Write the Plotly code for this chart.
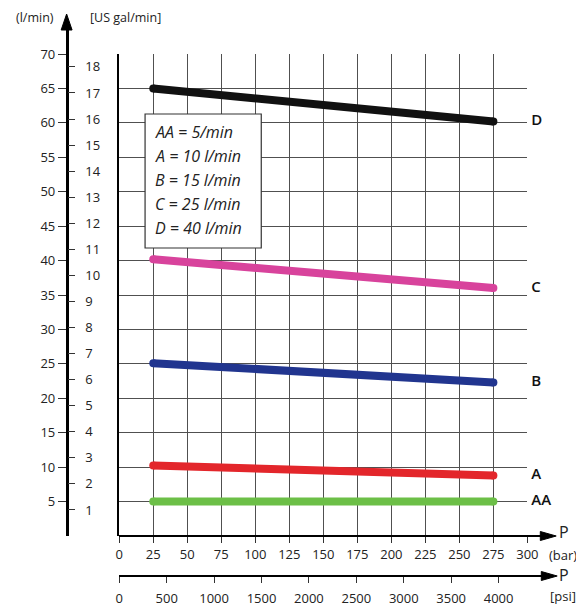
import plotly.graph_objects as go

# pressure (bar) at both ends of each curve
pressure_bar = [25, 275]

# flow (l/min) for each setting
flow_aa = [5.0, 5.0]
flow_a = [10.25, 8.8]
flow_b = [25.1, 22.3]
flow_c = [40.2, 36.0]
flow_d = [65.0, 60.2]

series_names = ['AA', 'A', 'B', 'C', 'D']
series_values = [flow_aa, flow_a, flow_b, flow_c, flow_d]
series_colors = ['#6cbf47', '#e3262b', '#21358f', '#d8439c', '#111111']

legend_lines = ['AA = 5/min', 'A = 10 l/min', 'B = 15 l/min', 'C = 25 l/min', 'D = 40 l/min']

bar_ticks = list(range(0, 301, 25))
psi_ticks = list(range(0, 4001, 500))
lmin_ticks = list(range(5, 71, 5))
gal_ticks = list(range(1, 19))
LITRES_PER_GAL = 3.785

FONT = 'Open Sans'
GRID = '#505050'
TXT = '#222222'

# page geometry (pixels of the browser page); the page body has an 8px margin
W, H = 584, 607
OFF = 8
FW, FH = W - OFF, H - OFF
X0, X1 = 116, 527          # 0 bar / 300 bar
Y0, Y70 = 536, 54          # 0 l/min / 70 l/min
X_END = 545                # end of the pressure axis lines
Y_TOP = 30                 # end of the flow axis line
Y_AX_X = 63                # flow axis position
PSI_Y = 576                # psi axis position
PSI_4000 = 498             # 4000 psi position


def px(x):
    return (x - OFF) / FW


def py(y):
    return 1 - (y - OFF) / FH


lmin_top = 70 * (Y0 - Y_TOP) / (Y0 - Y70)
bar_top = 300 * (X_END - X0) / (X1 - X0)
psi_top = 4000 * (X_END - X0) / (PSI_4000 - X0)

fig = go.Figure()

for name, vals, color in zip(series_names, series_values, series_colors):
    fig.add_trace(go.Scatter(
        x=pressure_bar, y=vals, mode='lines+markers', name=name,
        line=dict(color=color, width=8),
        marker=dict(color=color, size=8),
        showlegend=False, hoverinfo='skip',
    ))

# curve names at the right of the grid (leading space nudges them right)
fig.add_trace(go.Scatter(
    x=[bar_ticks[-1]] * len(series_names), y=[v[-1] for v in series_values],
    text=[' ' + n for n in series_names], mode='text', textposition='middle right',
    textfont=dict(family=FONT, size=15, color='#111', weight=600),
    cliponaxis=False, showlegend=False, hoverinfo='skip',
))

# empty traces so the extra axes get drawn (paired so no grid spills over)
for xa, ya in [('x2', 'y2'), ('x3', 'y2'), ('x2', 'y3')]:
    fig.add_trace(go.Scatter(x=[None], y=[None], xaxis=xa, yaxis=ya,
                             showlegend=False, hoverinfo='skip'))

tickfont = dict(family=FONT, size=13, color=TXT)

fig.update_layout(
    width=FW, height=FH,
    margin=dict(l=0, r=0, t=0, b=0),
    paper_bgcolor='white', plot_bgcolor='rgba(0,0,0,0)',
    xaxis=dict(domain=[px(X0), px(X1)], range=[0, 300], tickvals=bar_ticks,
               showticklabels=False, ticks='', showgrid=True, gridcolor=GRID,
               gridwidth=1.4, zeroline=False, showline=False),
    yaxis=dict(domain=[py(Y0), py(Y70)], range=[0, 70], tickvals=lmin_ticks,
               showticklabels=False, ticks='', showgrid=True, gridcolor=GRID,
               gridwidth=1.4, zeroline=False, showline=True, linecolor='black',
               linewidth=2),
    xaxis2=dict(domain=[px(X0), px(X_END)], range=[0, bar_top], anchor='free',
                position=py(Y0), side='bottom', tickvals=bar_ticks, ticks='outside',
                ticklen=6, tickcolor='#333', showline=True, linecolor='black',
                linewidth=2, showgrid=False, zeroline=False, tickfont=tickfont),
    xaxis3=dict(domain=[px(X0), px(X_END)], range=[0, psi_top], anchor='free',
                position=py(PSI_Y), side='bottom', tickvals=psi_ticks, ticks='outside',
                ticklen=6, tickcolor='#333', showline=True, linecolor='black',
                linewidth=2, showgrid=False, zeroline=False, tickfont=tickfont,
                ticklabelstandoff=4),
    yaxis2=dict(domain=[py(Y0), py(Y_TOP)], range=[0, lmin_top], anchor='free',
                position=px(Y_AX_X), side='left', tickvals=lmin_ticks, ticks='outside',
                ticklen=8, tickcolor='#333', showline=True, linecolor='black',
                linewidth=2.5, showgrid=False, zeroline=False, tickfont=tickfont),
    yaxis3=dict(overlaying='y2', range=[0, lmin_top / LITRES_PER_GAL], anchor='free',
                position=px(Y_AX_X), side='right', tickvals=gal_ticks, ticks='outside',
                ticklen=7, tickcolor='#333', showline=False, showgrid=False,
                zeroline=False, tickfont=tickfont, ticklabelstandoff=8),
)

# legend box
fig.add_shape(type='rect', xref='paper', yref='paper',
              x0=px(142), x1=px(259), y0=py(248), y1=py(114),
              line=dict(color='#333', width=1.2), fillcolor='white', layer='above')
for i, line in enumerate(legend_lines):
    fig.add_annotation(xref='paper', yref='paper', x=px(150), y=py(131.5 + i * 24.2),
                       xanchor='left', yanchor='middle', showarrow=False,
                       text='<i>' + line + '</i>',
                       font=dict(family=FONT, size=16, color='#222'))

# arrow heads
arrows = [
    f'M {px(Y_AX_X)},{py(14)} L {px(Y_AX_X - 5.5)},{py(30)} L {px(Y_AX_X + 5.5)},{py(30)} Z',
    f'M {px(556)},{py(Y0)} L {px(540)},{py(Y0 - 4.5)} L {px(540)},{py(Y0 + 4.5)} Z',
    f'M {px(557)},{py(PSI_Y)} L {px(541)},{py(PSI_Y - 4.5)} L {px(541)},{py(PSI_Y + 4.5)} Z',
]
for path in arrows:
    fig.add_shape(type='path', xref='paper', yref='paper', path=path,
                  fillcolor='black', line=dict(color='black', width=1))

# axis captions
captions = [
    ('(l/min)', 31.5, 17.5, 12.5),
    ('[US gal/min]', 122, 17.5, 12.5),
    ('P', 564, 532, 16),
    ('(bar)', 563, 555, 13),
    ('P', 564, 575, 16),
    ('[psi]', 563, 596, 13),
]
for text, x, y, size in captions:
    fig.add_annotation(xref='paper', yref='paper', x=px(x), y=py(y),
                       xanchor='center', yanchor='middle', showarrow=False,
                       text=text, font=dict(family=FONT, size=size, color=TXT))

fig.write_html('out.html')
